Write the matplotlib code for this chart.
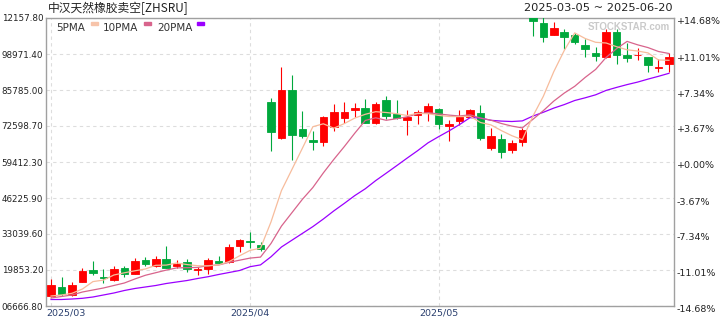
import matplotlib
matplotlib.use('Agg')
import matplotlib.pyplot as plt
import matplotlib.transforms as mtransforms
from matplotlib.patches import Rectangle

plt.rcParams['font.family'] = ['DejaVu Sans']

# daily OHLC, 2025-03-05 .. 2025-06-20 (60 bars)
opens = [10440, 13626, 10696, 15568, 19853, 17289, 16190, 20586, 18498, 23516,
         21428, 23882, 21318, 22674, 19853, 20110, 23260, 22674, 28754, 30476,
         29010, 81390, 68203, 85785, 71500, 67288, 66848, 72232, 75529, 78459,
         79192, 73808, 82122, 76994, 74796, 76738, 77251, 78826, 72709, 74430,
         76005, 77251, 64650, 67837, 63808, 66848, 112414, 110216, 106041, 106920,
         105931, 102378, 99338, 97982, 107140, 98605, 98422, 97763, 93843, 95308]
highs = [16557, 17289, 15568, 20696, 23150, 20219, 21209, 21428, 24139, 24505,
         25091, 28644, 23516, 23882, 21062, 24139, 24981, 29377, 31208, 33882,
         30219, 82745, 94320, 91279, 78093, 70767, 76262, 80657, 81390, 81023,
         82488, 81280, 83587, 82122, 78459, 78459, 80913, 79009, 74796, 78459,
         78826, 80291, 71976, 69668, 67471, 71976, 112890, 112414, 110583, 108129,
         106773, 104356, 101425, 108019, 108019, 103110, 101059, 97982, 97030, 99448]
lows = [10073, 10440, 10440, 15348, 18022, 14982, 15934, 17399, 18278, 21428,
        21062, 20476, 20696, 19231, 18022, 18498, 22051, 22307, 26337, 28021,
        26923, 63551, 67837, 60145, 68313, 63808, 65383, 70877, 73588, 76005,
        73588, 73331, 75273, 75053, 69302, 73331, 74430, 71500, 67214, 72965,
        75785, 67471, 63808, 60987, 62819, 65383, 105565, 103367, 105821, 100693,
        102634, 97982, 96407, 97615, 95199, 96151, 96774, 92488, 92268, 92488]
closes = [14359, 10952, 14359, 19487, 18864, 17106, 20219, 18388, 23150, 22161,
          23882, 20696, 22161, 20219, 20110, 23516, 22527, 28278, 30842, 29999,
          27545, 70511, 85785, 69412, 69046, 66921, 75895, 77727, 77727, 79192,
          73808, 80657, 76371, 75419, 76005, 77727, 79924, 73331, 73441, 75785,
          78459, 68313, 68936, 63075, 66482, 71134, 111169, 105308, 108385, 105308,
          103257, 100913, 98349, 107140, 98605, 97615, 98605, 94942, 94100, 97982]

ma5 = [10330, 10696, 11319, 12894, 15604, 16154, 18022, 18828, 19560, 20219,
       21575, 21648, 22417, 21831, 21428, 21355, 21721, 22930, 25055, 27033,
       27838, 37435, 48936, 56665, 64467, 72342, 73405, 71793, 73478, 75492,
       76884, 77837, 77544, 77104, 76445, 77251, 77104, 76482, 76078, 76042,
       76188, 73881, 73002, 70914, 69046, 67580, 76152, 83441, 92488, 100253,
       106700, 104649, 103257, 103001, 101645, 100510, 100070, 99374, 96774, 96664]
ma10 = [9597, 10147, 10696, 11795, 12527, 13260, 14176, 15091, 16557, 17912,
        18864, 19817, 20622, 20696, 20806, 21465, 21685, 22674, 23443, 24212,
        24578, 29560, 35933, 40842, 45750, 50072, 55420, 60365, 65053, 69961,
        74613, 75602, 74687, 75273, 75969, 77067, 77470, 77031, 76591, 76262,
        76701, 75492, 74723, 73514, 72562, 71903, 75016, 78203, 81719, 84649,
        87140, 90400, 93331, 97726, 100949, 103587, 102341, 101316, 99887, 99155]
ma20 = [9048, 9048, 9231, 9487, 9963, 10696, 11429, 12344, 13077, 13626,
        14176, 14908, 15458, 16007, 16740, 17399, 18205, 18937, 19670, 21062,
        21721, 24688, 28278, 30769, 33259, 35750, 38534, 41501, 44248, 47105,
        49596, 52599, 55310, 58057, 60841, 63551, 66445, 68679, 70804, 73112,
        75639, 75529, 74687, 74393, 74247, 74467, 76225, 77617, 79155, 80437,
        81939, 82928, 84027, 85638, 86737, 87763, 88679, 89778, 90803, 91902]

y_ticks = [6666.80, 19853.20, 33039.60, 46225.90, 59412.30, 72598.70, 85785.00, 98971.40, 112157.80]
y_labels = ['06666.80', '19853.20', '33039.60', '46225.90', '59412.30', '72598.70', '85785.00', '98971.40', '12157.80']
pct_labels = ['-14.68%', '-11.01%', '-7.34%', '-3.67%', '+0.00%', '+3.67%', '+7.34%', '+11.01%', '+14.68%']
x_ticks = [0, 19, 37]
x_labels = ['2025/03', '2025/04', '2025/05']

UP = '#ff0000'
DOWN = '#00a83c'
GRID = '#dddddd'
FRAME = '#a0a0a0'

fig = plt.figure(figsize=(7.2, 3.2), dpi=100)
ax = fig.add_axes([46 / 720, 14 / 320, 628 / 720, 288 / 320])

# candles
xs = list(range(len(closes)))
colors = [UP if c >= o else DOWN for o, c in zip(opens, closes)]
bottoms = [min(o, c) for o, c in zip(opens, closes)]
heights = [abs(c - o) for o, c in zip(opens, closes)]
ax.vlines(xs, lows, highs, colors=colors, linewidth=0.8, zorder=3)
ax.bar(xs, heights, bottom=bottoms, width=0.72, color=colors, edgecolor=colors,
       linewidth=0.6, zorder=4)

# moving averages
ax.plot(xs, ma20, color='#9b00ff', linewidth=0.9, zorder=5)
ax.plot(xs, ma10, color='#d8648c', linewidth=0.9, zorder=5)
ax.plot(xs, ma5, color='#f7bc9c', linewidth=0.9, zorder=6)

ax.set_xlim(-0.48, 59.48)
ax.set_ylim(y_ticks[0], y_ticks[-1])
ax.set_yticks(y_ticks)
ax.set_yticklabels(y_labels)
ax.set_xticks(x_ticks)
ax.set_xticklabels(x_labels)
ax.tick_params(axis='y', length=0, pad=2, labelsize=6.3, labelcolor='#222222')
ax.tick_params(axis='x', length=0, pad=1.5, labelsize=6.8, labelcolor='#2a3f6e')
first = ax.get_xticklabels()[0]
first.set_horizontalalignment('left')
first.set_transform(first.get_transform() +
                    mtransforms.ScaledTranslation(-5 / 100, 0, fig.dpi_scale_trans))

ax.grid(True, color=GRID, linestyle=(0, (3, 3)), linewidth=0.8, zorder=0)
ax.set_axisbelow(True)
for sp in ax.spines.values():
    sp.set_color(FRAME)
    sp.set_linewidth(1)

# right percent axis
ax2 = ax.twinx()
ax2.set_ylim(ax.get_ylim())
ax2.set_yticks(y_ticks)
ax2.set_yticklabels(pct_labels)
ax2.tick_params(axis='y', length=0, pad=2, labelsize=6.8, labelcolor='#222222')
for lbl in ax2.get_yticklabels():
    lbl.set_transform(lbl.get_transform() +
                      mtransforms.ScaledTranslation(0, -3 / 100, fig.dpi_scale_trans))
for sp in ax2.spines.values():
    sp.set_visible(False)

# watermark
ax.text(0.993, 0.985, 'STOCKSTAR.com', transform=ax.transAxes, ha='right', va='top',
        fontsize=7, fontweight='bold', color='#cacaca', family=['Liberation Sans'],
        zorder=1)

# header
fig.text(48 / 720, 1 - 8 / 320, '中汉天然橡胶卖空[ZHSRU]', ha='left', va='center',
         fontsize=8.5, color='#222222', family=['Noto Sans CJK SC', 'DejaVu Sans'])
fig.text(673 / 720, 1 - 8 / 320, '2025-03-05 ~ 2025-06-20', ha='right', va='center',
         fontsize=8.2, color='#222222')

# legend
legend_items = [('5PMA', 56, 91, '#f7c4aa'), ('10PMA', 103, 144, '#d8648c'),
                ('20PMA', 157, 197, '#9b00ff')]
for name, tx, sx, col in legend_items:
    fig.text(tx / 720, 1 - 28 / 320, name, ha='left', va='center', fontsize=7.5,
             color='#333333')
    fig.add_artist(Rectangle((sx / 720, 1 - 25 / 320), 7 / 720, 3 / 320,
                             transform=fig.transFigure, color=col, zorder=10))

fig.savefig('out.png', dpi=100)
